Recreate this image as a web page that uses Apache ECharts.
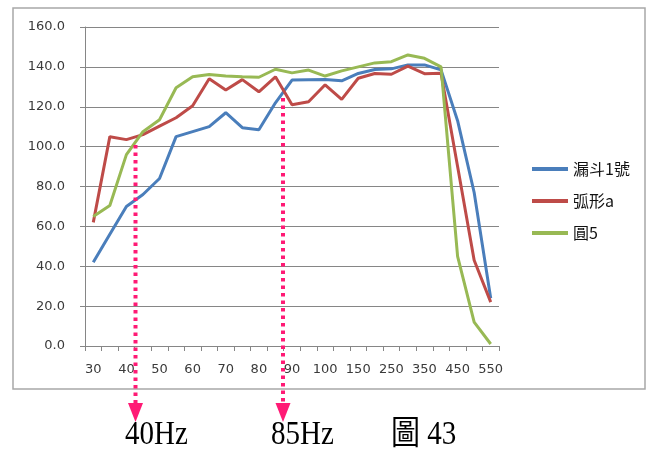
<!DOCTYPE html>
<html>
<head>
<meta charset="utf-8">
<script src="https://cdn.jsdelivr.net/npm/echarts@6/dist/echarts.min.js"></script>
<style>
html,body{margin:0;padding:0;background:#fff;}
#c{width:647px;height:456px;}
</style>
</head>
<body>
<div id="c"></div>
<script>
// Categories (Hz)
var categories = ['30','35','40','45','50','55','60','65','70','75','80','85','90','95','100','125','150','200','250','300','350','400','450','500','550'];
// Series
var seriesNames = ['漏斗1號', '弧形a', '圓5'];
var funnel1 = [42, 56, 70, 76, 84, 105, 107.5, 110, 117, 109.5, 108.5, 122, 133.4, 133.6, 133.7, 133, 136.7, 138.7, 139, 141, 141, 138.5, 113, 77, 24];
var arcA    = [62, 105, 103.5, 106, 110.3, 114.5, 120.5, 134, 128.4, 133.6, 127.5, 135, 121, 122.5, 131, 123.7, 134.3, 136.7, 136.3, 140.4, 136.6, 136.8, 90, 43, 22];
var circle5 = [65, 70.5, 96, 107.5, 113.5, 129.5, 135, 136.2, 135.4, 135, 134.8, 138.8, 137, 138.4, 135.4, 138, 140, 142, 142.6, 146, 144.3, 140, 45, 12, 1];
var yTicks = {min: 0, max: 160, interval: 20};
var annotations = ['40Hz', '85Hz', '圖 43'];

var colors = ['#4a7ebb', '#be4b48', '#98b954'];
var chart = echarts.init(document.getElementById('c'), null, {renderer: 'canvas'});
var lbl = {fontFamily: 'DejaVu Sans', fontSize: 13, color: '#3a3a3a'};
var pink = '#ff1a75';

function mk(name, data, i) {
  return {
    name: name, type: 'line', data: data, showSymbol: false, symbol: 'none',
    lineStyle: {width: 3, color: colors[i]}, itemStyle: {color: colors[i]},
    animation: false, z: 3
  };
}

var option = {
  animation: false,
  grid: {left: 85, right: 148, top: 27, bottom: 110, containLabel: false},
  xAxis: {
    type: 'category', data: categories, boundaryGap: true,
    axisLine: {lineStyle: {color: '#868686', width: 1}},
    axisTick: {show: true, interval: 0, length: 5, lineStyle: {color: '#868686'}},
    axisLabel: Object.assign({interval: 1, margin: 17}, lbl),
    splitLine: {show: false}
  },
  yAxis: {
    type: 'value', min: yTicks.min, max: yTicks.max, interval: yTicks.interval,
    axisLine: {show: true, lineStyle: {color: '#868686', width: 1}},
    axisTick: {show: true, length: 5, lineStyle: {color: '#868686'}},
    axisLabel: Object.assign({margin: 20, formatter: function(v){return v.toFixed(1);}}, lbl),
    splitLine: {show: true, lineStyle: {color: '#868686', width: 1}}
  },
  legend: {
    orient: 'vertical', left: 527, top: 156,
    icon: 'rect', itemWidth: 36, itemHeight: 4, itemGap: 16,
    textStyle: {fontFamily: '"Noto Sans CJK TC", "DejaVu Sans"', fontSize: 16, color: '#111'},
    data: seriesNames
  },
  series: [mk(seriesNames[0], funnel1, 0), mk(seriesNames[1], arcA, 1), mk(seriesNames[2], circle5, 2)]
};
chart.setOption(option);

// Annotations (chart frame, pointer lines, captions)
function arrow(x, y0, y1) {
  return [
    {type: 'line', shape: {x1: x, y1: y0, x2: x, y2: y1},
     style: {stroke: pink, lineWidth: 4, lineDash: [3.5, 4]}, z: 10},
    {type: 'polygon', shape: {points: [[x - 7.5, y1], [x + 7.5, y1], [x, y1 + 19]]},
     style: {fill: pink}, z: 10}
  ];
}
var capFont = '33px "Liberation Serif", "Noto Sans CJK TC", serif';
var g = [
  {type: 'rect', shape: {x: 13, y: 8, width: 632, height: 381},
   style: {fill: null, stroke: '#a8a8a8', lineWidth: 1.5}, z: 0}
].concat(arrow(135.5, 145, 403)).concat(arrow(283, 98, 403)).concat([
  {type: 'text', x: 125, y: 452, scaleX: 0.88, style: {text: annotations[0], font: capFont, fill: '#000', textVerticalAlign: 'bottom'}},
  {type: 'text', x: 271, y: 452, scaleX: 0.88, style: {text: annotations[1], font: capFont, fill: '#000', textVerticalAlign: 'bottom'}},
  {type: 'text', x: 391, y: 452, scaleX: 0.88, style: {text: annotations[2], font: capFont, fill: '#000', textVerticalAlign: 'bottom'}}
]);
chart.setOption({graphic: g});
</script>
</body>
</html>
